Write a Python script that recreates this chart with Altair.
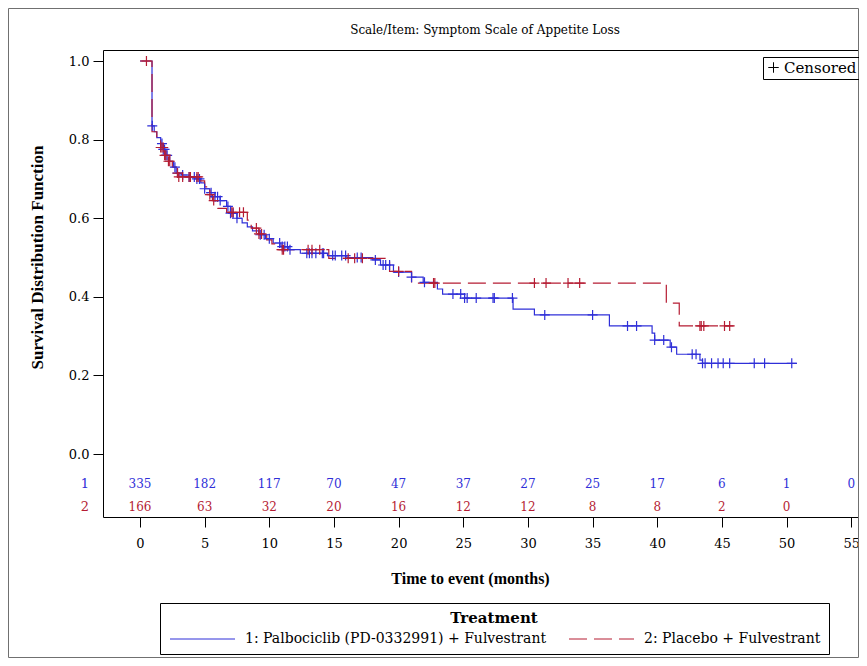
import altair as alt
import pandas as pd

ARM1 = "1: Palbociclib (PD-0332991) + Fulvestrant"
ARM2 = "2: Placebo + Fulvestrant"
ARMS = [ARM1, ARM2]
BLUE = "#2f2fd8"
RED = "#b51c33"
TITLE = "Scale/Item: Symptom Scale of Appetite Loss"

# Kaplan-Meier step points (time in months, survival)
blue_t = [0, 0.93, 1.1, 1.3, 1.6, 1.8, 2.0, 2.3, 2.6, 2.8, 3.2, 3.8, 4.4, 4.7, 5.0, 5.4, 5.8, 6.2,
          6.7, 7.0, 7.5, 7.9, 8.3, 8.7, 9.2, 9.7, 10.3, 10.9, 11.5, 12.4, 14.5, 16.0, 18.0, 18.6,
          19.6, 21.0, 21.9, 23.0, 23.4, 25.1, 28.85, 30.5, 36.3, 39.6, 39.8, 41.0, 41.5, 43.3, 43.5]
blue_s = [1.0, 0.835, 0.82, 0.805, 0.79, 0.775, 0.76, 0.745, 0.73, 0.715, 0.71, 0.705, 0.70, 0.69,
          0.675, 0.665, 0.655, 0.645, 0.63, 0.613, 0.60, 0.588, 0.578, 0.568, 0.558, 0.548, 0.537,
          0.528, 0.52, 0.511, 0.505, 0.50, 0.494, 0.481, 0.463, 0.45, 0.437, 0.42, 0.407, 0.397,
          0.369, 0.354, 0.326, 0.308, 0.29, 0.272, 0.254, 0.239, 0.231]
blue_end = 50.8

red_t = [0, 0.93, 1.3, 1.6, 1.9, 2.2, 2.5, 2.8, 3.0, 4.6, 5.0, 5.2, 5.6, 6.0, 6.7, 8.3, 8.6, 9.2,
         9.8, 10.2, 10.6, 14.6, 19.3, 21.0, 40.7, 41.7]
red_s = [1.0, 0.82, 0.80, 0.78, 0.76, 0.745, 0.73, 0.715, 0.705, 0.695, 0.68, 0.66, 0.645, 0.625,
         0.615, 0.595, 0.575, 0.56, 0.545, 0.535, 0.52, 0.498, 0.465, 0.435, 0.384, 0.326]
red_end = 45.9

# censoring times
blue_cens = [0.95, 1.7, 1.8, 1.9, 2.0, 2.1, 2.7, 2.9, 3.3, 3.8, 4.2, 4.4, 4.6, 5.0, 5.5, 5.8, 6.0,
             6.2, 6.8, 7.0, 7.2, 7.5, 9.3, 9.6, 10.0, 10.8, 11.0, 11.2, 11.4, 11.6, 12.9, 13.1,
             13.3, 13.6, 14.1, 14.2, 14.9, 15.1, 15.6, 15.9, 16.8, 17.1, 18.2, 18.8, 19.0, 19.3,
             20.0, 21.0, 22.0, 24.2, 24.8, 25.1, 25.3, 26.0, 27.3, 27.4, 28.8, 31.3, 35.0, 37.7,
             38.4, 39.8, 40.5, 41.1, 42.7, 43.0, 43.5, 43.7, 44.2, 44.7, 45.1, 45.6, 47.5, 48.3,
             50.4]
red_cens = [0.5, 1.6, 1.7, 1.8, 1.9, 2.0, 2.2, 2.3, 2.9, 3.0, 3.3, 3.8, 3.9, 4.4, 4.5, 5.4, 5.7,
            7.1, 7.2, 7.7, 8.0, 9.0, 9.2, 9.4, 11.0, 11.1, 13.0, 13.3, 13.9, 16.1, 16.6, 17.2,
            20.0, 22.7, 22.8, 30.5, 31.4, 33.1, 34.0, 43.3, 43.4, 43.6, 45.2, 45.6]

# numbers at risk
risk_times_blue = [0, 5, 10, 15, 20, 25, 30, 35, 40, 45, 50, 55]
risk_blue = [335, 182, 117, 70, 47, 37, 27, 25, 17, 6, 1, 0]
risk_times_red = [0, 5, 10, 15, 20, 25, 30, 35, 40, 45, 50]
risk_red = [166, 63, 32, 20, 16, 12, 12, 8, 8, 2, 0]
row_labels = ["1", "2"]

x_ticks = [0, 5, 10, 15, 20, 25, 30, 35, 40, 45, 50, 55]
y_ticks = [0.0, 0.2, 0.4, 0.6, 0.8, 1.0]


def step_value(ts, ss, c):
    v = ss[0]
    for t, s in zip(ts, ss):
        if t <= c:
            v = s
    return v


curve_rows = []
for arm, ts, ss, end in [(ARM1, blue_t, blue_s, blue_end), (ARM2, red_t, red_s, red_end)]:
    for t, s in zip(ts, ss):
        curve_rows.append({"arm": arm, "t": t, "s": s})
    curve_rows.append({"arm": arm, "t": end, "s": ss[-1]})
curves = pd.DataFrame(curve_rows)

cens_rows = []
for arm, ts, ss, cs in [(ARM1, blue_t, blue_s, blue_cens), (ARM2, red_t, red_s, red_cens)]:
    for c in cs:
        cens_rows.append({"arm": arm, "t": c, "s": step_value(ts, ss, c), "kind": "Censored"})
cens = pd.DataFrame(cens_rows)

risk1 = pd.DataFrame({"t": risk_times_blue, "n": risk_blue})
risk2 = pd.DataFrame({"t": risk_times_red, "n": risk_red})
lab1 = pd.DataFrame({"label": [row_labels[0]]})
lab2 = pd.DataFrame({"label": [row_labels[1]]})
title_df = pd.DataFrame({"label": [TITLE]})

SERIF = "DejaVu Serif"
TSERIF = "Liberation Serif"

xscale = alt.Scale(domain=[-2.86, 55.6], nice=False, zero=False)
yscale = alt.Scale(domain=[-0.16, 1.028], nice=False, zero=False)
xaxis = alt.Axis(values=x_ticks, format="d", tickSize=10, labelPadding=10, labelFont=SERIF,
                 labelFontSize=13, labelColor="black", tickColor="black", domain=False,
                 grid=False, title="Time to event (months)", titleFont=TSERIF, titleFontSize=16,
                 titleFontWeight="bold", titleColor="black", titleX=367, titleY=61,
                 titleAlign="center", titleBaseline="middle")
yaxis = alt.Axis(values=y_ticks, format=".1f", tickSize=10, labelPadding=4, labelFont=SERIF,
                 labelFontSize=13, labelColor="black", tickColor="black", domain=False,
                 grid=False, title="Survival Distribution Function", titleFont=TSERIF,
                 titleFontSize=17, titleFontWeight="bold", titleColor="black", titleX=-66,
                 titleY=207, titleAngle=270, titleAlign="center", titleBaseline="middle")

X = alt.X("t:Q", scale=xscale, axis=xaxis)
Y = alt.Y("s:Q", scale=yscale, axis=yaxis)

treat_legend = alt.Legend(title="Treatment", orient="none", legendX=57, legendY=553,
                          direction="horizontal", columns=2, titleAnchor="middle",
                          titleFont=SERIF, titleFontSize=15, titleFontWeight="bold",
                          titleColor="black", titlePadding=6, labelFont=SERIF, labelFontSize=14,
                          labelColor="black", labelLimit=500, labelOffset=63,
                          symbolType="M-1,0H12", symbolSize=100, symbolStrokeWidth=1,
                          strokeColor="black", padding=8, columnPadding=20)

lines = alt.Chart(curves).mark_line(interpolate="step-after", strokeWidth=1.2).encode(
    x=X, y=Y,
    color=alt.Color("arm:N", scale=alt.Scale(domain=ARMS, range=[BLUE, RED]), legend=treat_legend),
    strokeDash=alt.StrokeDash("arm:N", scale=alt.Scale(domain=ARMS, range=[[1, 0], [18, 7]]),
                              legend=treat_legend),
)

points = alt.Chart(cens).mark_point(filled=False, color="black", strokeWidth=1.2, size=100,
                                    opacity=1).encode(
    x=X, y=Y,
    stroke=alt.Stroke("arm:N", scale=alt.Scale(domain=ARMS, range=[BLUE, RED]), legend=None),
    shape=alt.Shape("kind:N", scale=alt.Scale(domain=["Censored"], range=["M-1,0H1M0,-1V1"]),
                    legend=alt.Legend(title=None, orient="none", legendX=660, legendY=7,
                                      strokeColor="black", padding=3, labelFont=SERIF,
                                      labelFontSize=15, labelColor="black", labelOffset=3,
                                      symbolSize=110, symbolStrokeColor="black",
                                      symbolStrokeWidth=1, symbolFillColor="transparent")),
)

txt1 = alt.Chart(risk1).mark_text(font=SERIF, fontSize=12, color=BLUE, baseline="middle").encode(
    x=X, y=alt.value(434), text="n:Q")
txt2 = alt.Chart(risk2).mark_text(font=SERIF, fontSize=12, color=RED, baseline="middle").encode(
    x=X, y=alt.value(457), text="n:Q")
rl1 = alt.Chart(lab1).mark_text(font=SERIF, fontSize=13, color=BLUE, baseline="middle").encode(
    x=alt.value(-18), y=alt.value(434), text="label:N")
rl2 = alt.Chart(lab2).mark_text(font=SERIF, fontSize=13, color=RED, baseline="middle").encode(
    x=alt.value(-18), y=alt.value(457), text="label:N")

# chart title
ttl = alt.Chart(title_df).mark_text(font=SERIF, fontSize=12, color="black", baseline="middle",
                                    align="center").encode(
    x=alt.value(382), y=alt.value(-20), text="label:N")

# outer frame around the whole graphic
frame = alt.Chart(lab1).mark_rect(fill=None, stroke="#707070", strokeWidth=1).encode(
    x=alt.value(-94.5), x2=alt.value(755.5), y=alt.value(-41.5), y2=alt.value(607.5))

chart = alt.layer(frame, lines, points, txt1, txt2, rl1, rl2, ttl).properties(
    width=756, height=467,
    background="white",
    autosize=alt.AutoSizeParams(type="none"),
    padding={"left": 95, "top": 42, "right": 0, "bottom": 141},
).configure_view(stroke="black", strokeWidth=1)

chart.save("out.html", embed_options={"renderer": "svg", "actions": False})
